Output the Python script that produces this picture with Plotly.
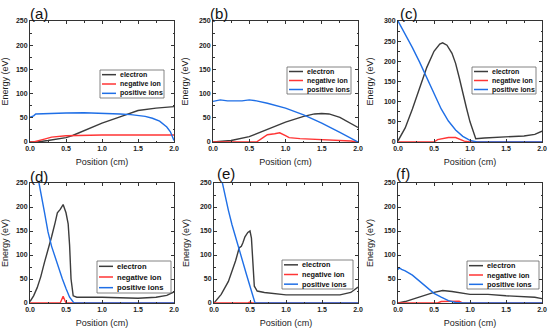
import plotly.graph_objects as go

W, H = 550, 332

# ---------------- data ----------------
a_e_x = [0, 0.1, 0.25, 0.5, 0.6, 0.75, 1.0, 1.25, 1.35, 1.5, 1.75, 2.0]
a_e_y = [0, 0, 3, 9, 14, 24, 39, 52, 57, 65, 70, 73]
a_n_x = [0, 0.05, 0.2, 0.3, 0.5, 0.7, 1.0, 1.5, 2.0]
a_n_y = [0, 0, 6, 10, 13, 14, 14.5, 14.5, 14.5]
a_p_x = [0, 0.05, 0.08, 0.2, 0.3, 0.5, 0.75, 1.0, 1.25, 1.4, 1.5, 1.6, 1.7, 1.8, 1.9, 1.95, 2.0]
a_p_y = [51, 54, 58, 59, 58.5, 60, 60.5, 60, 58, 56.5, 55, 53, 49, 43, 31, 21, 3]

b_e_x = [0, 0.25, 0.5, 0.75, 1.0, 1.25, 1.4, 1.5, 1.6, 1.75, 1.9, 2.0]
b_e_y = [0, 3, 11, 26, 41, 53, 58, 59, 58, 51, 39, 30]
b_n_x = [0, 0.6, 0.68, 0.75, 0.85, 0.92, 1.0, 1.05, 1.2, 1.5, 1.75, 1.9, 2.0]
b_n_y = [0, 0, 8, 15, 17, 19, 13, 9, 7, 5, 4, 2, 0]
b_p_x = [0, 0.05, 0.1, 0.2, 0.3, 0.4, 0.5, 0.6, 0.75, 1.0, 1.25, 1.5, 1.75, 2.0]
b_p_y = [84, 85, 87, 85, 85, 85, 87, 85, 80, 70, 56, 39, 20, 0]

c_e_x = [0, 0.05, 0.1, 0.2, 0.3, 0.4, 0.5, 0.58, 0.62, 0.68, 0.75, 0.8, 0.85, 0.9,
         0.95, 1.0, 1.05, 1.08, 1.2, 1.5, 1.75, 1.9, 2.0]
c_e_y = [3, 18, 35, 82, 135, 185, 225, 243, 246, 240, 220, 195, 160, 120,
         85, 50, 20, 8, 10, 12, 15, 19, 27]
c_n_x = [0, 0.5, 0.55, 0.62, 0.7, 0.8, 0.85, 0.92, 1.0, 2.0]
c_n_y = [0, 0, 6, 9, 11, 11, 8, 2, 0, 0]
c_p_x = [0, 0.1, 0.2, 0.3, 0.4, 0.5, 0.6, 0.7, 0.8, 0.9, 1.0, 1.1, 2.0]
c_p_y = [300, 268, 234, 198, 160, 120, 82, 52, 30, 14, 4, 0, 0]

d_e_x = [0, 0.05, 0.1, 0.15, 0.2, 0.25, 0.3, 0.35, 0.38, 0.42, 0.46, 0.5, 0.53,
         0.55, 0.57, 0.6, 0.65, 1.0, 1.5, 1.75, 1.9, 2.0]
d_e_y = [3, 15, 32, 55, 84, 110, 138, 168, 188, 195, 205, 188, 165,
         120, 50, 15, 12, 12, 10, 12, 16, 23]
d_n_x = [0, 0.42, 0.46, 0.5, 2.0]
d_n_y = [0, 0, 14, 0, 0]
d_p_x = [0, 0.05, 0.1, 0.125, 0.2, 0.25, 0.3, 0.35, 0.4, 0.45, 0.5, 0.55, 0.6, 0.62, 2.0]
d_p_y = [340, 305, 270, 250, 190, 148, 118, 94, 70, 50, 30, 12, 2, 0, 0]

e_e_x = [0, 0.1, 0.2, 0.25, 0.3, 0.35, 0.38, 0.4, 0.43, 0.47, 0.5, 0.52, 0.54,
         0.56, 0.6, 0.7, 1.0, 1.5, 1.75, 1.9, 2.0]
e_e_y = [0, 18, 45, 65, 88, 115, 118, 125, 138, 147, 150, 135, 80,
         35, 25, 22, 17, 16, 17, 22, 33]
e_n_x = [0, 0.47, 0.5, 0.53, 2.0]
e_n_y = [0, 0, 2, 0, 0]
e_p_x = [0, 0.05, 0.1, 0.15, 0.2, 0.25, 0.3, 0.35, 0.4, 0.45, 0.5, 0.55, 0.57, 2.0]
e_p_y = [330, 295, 262, 228, 193, 163, 136, 111, 86, 60, 35, 10, 0, 0]

f_e_x = [0, 0.1, 0.25, 0.5, 0.62, 0.75, 1.0, 1.25, 1.5, 1.75, 1.9, 2.0]
f_e_y = [0, 3, 10, 22, 26, 24, 18, 18, 15, 13, 12, 9]
f_n_x = [0, 0.55, 0.6, 0.85, 0.9, 2.0]
f_n_y = [0, 0, 3, 4, 0, 0]
f_p_x = [0, 0.02, 0.05, 0.1, 0.2, 0.3, 0.4, 0.5, 0.6, 0.7, 0.8, 0.9, 2.0]
f_p_y = [70, 73, 70, 67, 58, 45, 32, 20, 12, 5, 1, 0, 0]

panel_labels = ["(a)", "(b)", "(c)", "(d)", "(e)", "(f)"]
series_names = ["electron", "negative ion", "positive ions"]
y_max = [250, 250, 300, 250, 250, 250]

panels = [
    [(a_e_x, a_e_y), (a_n_x, a_n_y), (a_p_x, a_p_y)],
    [(b_e_x, b_e_y), (b_n_x, b_n_y), (b_p_x, b_p_y)],
    [(c_e_x, c_e_y), (c_n_x, c_n_y), (c_p_x, c_p_y)],
    [(d_e_x, d_e_y), (d_n_x, d_n_y), (d_p_x, d_p_y)],
    [(e_e_x, e_e_y), (e_n_x, e_n_y), (e_p_x, e_p_y)],
    [(f_e_x, f_e_y), (f_n_x, f_n_y), (f_p_x, f_p_y)],
]

# ---------------- layout geometry (pixels) ----------------
colors = ["#3c3c3c", "#ff3535", "#1f6fe6"]
x_px = [(30, 174), (213, 358), (398, 542), (30, 174), (214, 358), (398, 542)]
y_px = [(21, 142), (21, 142), (21, 142), (183, 303), (183, 303), (183, 303)]
# legend boxes: left, top, right, bottom
leg_box = [(100, 70, 164, 98), (287, 67, 351, 94), (472, 67, 536, 94),
           (97, 261, 171, 293), (282, 260, 353, 289), (467, 261, 539, 289)]
leg_font = [7, 7, 7, 7.6, 7.3, 7.3]
lab_px = [(28, 13), (208, 14), (398, 13), (28, 176), (215, 173), (394, 173)]

FONT = "Arial, Liberation Sans, sans-serif"
fig = go.Figure()
layout = dict(
    width=W, height=H, margin=dict(l=0, r=0, t=0, b=0, autoexpand=False),
    paper_bgcolor="white", plot_bgcolor="white",
    font=dict(family=FONT, color="#222"),
    showlegend=False,
    annotations=[], shapes=[],
)


def px2x(p):
    return p / W


def px2y(p):
    return 1 - p / H


for i, pan in enumerate(panels):
    n = i + 1
    xa = "x" if n == 1 else f"x{n}"
    ya = "y" if n == 1 else f"y{n}"
    for (xs, ys), name, col in zip(pan, series_names, colors):
        fig.add_trace(go.Scatter(
            x=xs, y=ys, mode="lines", name=name, xaxis=xa, yaxis=ya,
            line=dict(color=col, width=1.4), showlegend=False,
        ))
    x0, x1 = x_px[i]
    yt, yb = y_px[i]
    axkey = "xaxis" if n == 1 else f"xaxis{n}"
    aykey = "yaxis" if n == 1 else f"yaxis{n}"
    common = dict(
        showline=True, linecolor="#333", linewidth=1, mirror="ticks",
        ticks="inside", ticklen=3, tickcolor="#333", showgrid=False, zeroline=False,
        automargin=False,
        tickfont=dict(size=7, family=FONT, weight="bold", color="#222"),
    )
    layout[axkey] = dict(
        domain=[px2x(x0), px2x(x1)], anchor=ya, range=[0, 2.0], dtick=0.5,
        tickformat=".1f",
        minor=dict(ticks="inside", ticklen=1.5, dtick=0.25, tickcolor="#333"),
        title=dict(text="Position (cm)", font=dict(size=9, family=FONT), standoff=7),
        **common,
    )
    layout[aykey] = dict(
        domain=[px2y(yb), px2y(yt)], anchor=xa, range=[0, y_max[i]], dtick=50,
        minor=dict(ticks="inside", ticklen=1.5, dtick=25, tickcolor="#333"),
        title=dict(text="Energy (eV)", font=dict(size=9, family=FONT), standoff=8),
        **common,
    )
    # legend drawn as box + line samples + labels
    L, T, R, B = leg_box[i]
    layout["shapes"].append(dict(
        type="rect", xref="paper", yref="paper",
        x0=px2x(L), x1=px2x(R), y0=px2y(B), y1=px2y(T),
        line=dict(color="#666", width=0.8), fillcolor="white", layer="above",
    ))
    rowh = (B - T) / 3.0
    for k, (name, col) in enumerate(zip(series_names, colors)):
        cy = T + rowh * (k + 0.5)
        layout["shapes"].append(dict(
            type="line", xref="paper", yref="paper",
            x0=px2x(L + 2), x1=px2x(L + 16), y0=px2y(cy), y1=px2y(cy),
            line=dict(color=col, width=1.5), layer="above",
        ))
        layout["annotations"].append(dict(
            text=name, x=px2x(L + 18), y=px2y(cy), xref="paper", yref="paper",
            xanchor="left", yanchor="middle", showarrow=False,
            font=dict(size=leg_font[i], family=FONT, weight="bold", color="#111"),
        ))
    px, py = lab_px[i]
    layout["annotations"].append(dict(
        text=panel_labels[i], x=px2x(px), y=px2y(py), xref="paper", yref="paper",
        xanchor="left", yanchor="middle", showarrow=False,
        font=dict(size=15, family=FONT, color="#111"),
    ))

fig.update_layout(**layout)
fig.write_html("out.html", config={"displayModeBar": False},
               post_script="document.body.style.margin='0';")
